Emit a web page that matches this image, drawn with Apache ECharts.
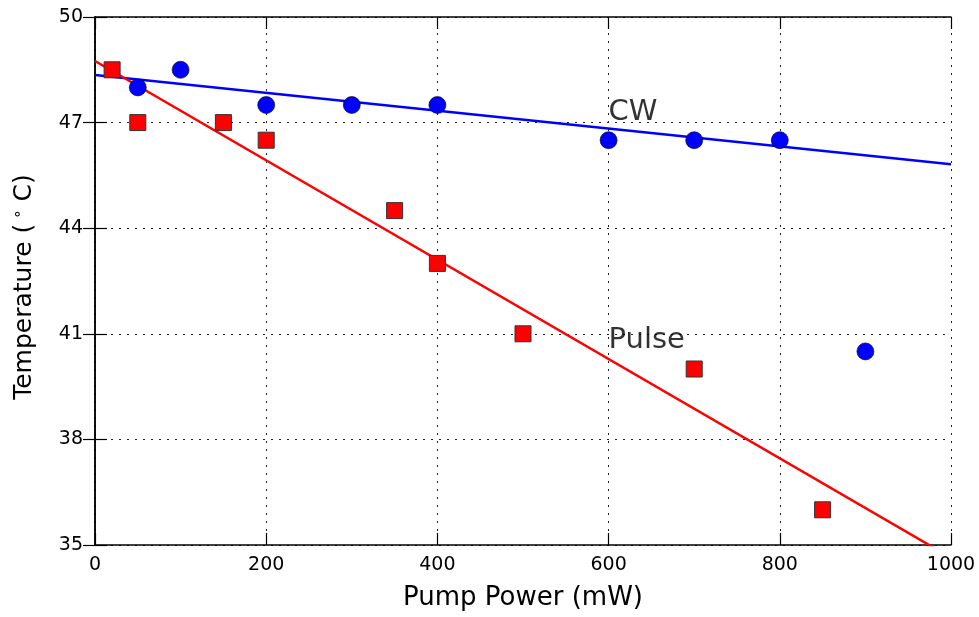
<!DOCTYPE html>
<html>
<head>
<meta charset="utf-8">
<script src="https://cdn.jsdelivr.net/npm/echarts@6/dist/echarts.min.js"></script>
<style>
  html, body { margin: 0; padding: 0; background: #fff; }
  #main { width: 979px; height: 617px; }
</style>
</head>
<body>
<div id="main"></div>
<script>
// measured values (mW, degC)
const cwPower = [50, 100, 200, 300, 400, 600, 700, 800, 900]
const cwTemp = [48, 48.5, 47.5, 47.5, 47.5, 46.5, 46.5, 46.5, 40.5]
const pulsePower = [20, 50, 150, 200, 350, 400, 500, 700, 850]
const pulseTemp = [48.5, 47, 47, 46.5, 44.5, 43, 41, 40, 36]
// fitted lines, endpoints
const cwFit = [[0, 48.35], [1000, 45.82]]
const pulseFit = [[0, 48.75], [1000, 34.64]]
// text labels in the plot
const notes = [
  { name: 'CW', value: [600, 47.28] },
  { name: 'Pulse', value: [600, 40.82] }
]

const font = 'DejaVu Sans'
let myChart = echarts.init(document.getElementById('main'))

const gridLine = {
  show: true,
  lineStyle: { color: '#222', width: 1, type: [2, 6] }
}
const frame = { show: true, lineStyle: { color: '#000', width: 1.5 } }
const tick = { show: true, inside: true, length: 12, lineStyle: { color: '#000', width: 1.2 } }

myChart.setOption({
  animation: false,
  grid: { left: 95, right: 28, top: 17, bottom: 72 },
  xAxis: [
    {
      type: 'value',
      min: 0,
      max: 1000,
      interval: 200,
      name: 'Pump Power (mW)',
      nameLocation: 'middle',
      nameGap: 40,
      nameTextStyle: { fontFamily: font, fontSize: 26, color: '#000' },
      axisLine: frame,
      axisTick: tick,
      axisLabel: {
        fontFamily: font, fontSize: 19, color: '#000', margin: 11,
        formatter: (v) => String(v)
      },
      splitLine: gridLine
    },
    {
      type: 'value',
      position: 'top',
      min: 0,
      max: 1000,
      interval: 200,
      axisLine: frame,
      axisTick: tick,
      axisLabel: { show: false },
      splitLine: { show: false }
    }
  ],
  yAxis: [
    {
      type: 'value',
      min: 35,
      max: 50,
      interval: 3,
      name: '{a|Temperature (}{b|∘}{a| C)}',
      nameLocation: 'middle',
      nameGap: 58,
      nameTextStyle: {
        fontFamily: font,
        fontSize: 25,
        color: '#000',
        padding: [0, 12, 0, 0],
        rich: {
          a: { fontFamily: font, fontSize: 25, color: '#000' },
          b: { fontFamily: font, fontSize: 15, color: '#000', padding: [0, 0, 11, 5] }
        }
      },
      axisLine: frame,
      axisTick: tick,
      axisLabel: { fontFamily: font, fontSize: 19, color: '#000', margin: 12 },
      splitLine: gridLine
    },
    {
      type: 'value',
      position: 'right',
      min: 35,
      max: 50,
      interval: 3,
      axisLine: frame,
      axisTick: tick,
      axisLabel: { show: false },
      splitLine: { show: false }
    }
  ],
  series: [
    {
      name: 'CW fit',
      type: 'line',
      data: cwFit,
      symbol: 'none',
      clip: true,
      lineStyle: { color: '#0000ff', width: 2.5 },
      z: 2
    },
    {
      name: 'Pulse fit',
      type: 'line',
      data: pulseFit,
      symbol: 'none',
      clip: true,
      lineStyle: { color: '#ff0000', width: 2.5 },
      z: 2
    },
    {
      name: 'CW',
      type: 'scatter',
      data: cwPower.map((p, i) => [p, cwTemp[i]]),
      symbol: 'circle',
      symbolSize: 17,
      itemStyle: { color: '#0000ff', borderColor: '#000', borderWidth: 0.6, opacity: 1 },
      z: 3
    },
    {
      name: 'Pulse',
      type: 'scatter',
      data: pulsePower.map((p, i) => [p, pulseTemp[i]]),
      symbol: 'rect',
      symbolSize: 16,
      itemStyle: { color: '#ff0000', borderColor: '#333', borderWidth: 1, opacity: 1 },
      z: 3
    },
    {
      name: 'notes',
      type: 'scatter',
      data: notes,
      symbolSize: 0,
      label: {
        show: true,
        position: [0, 0],
        align: 'left',
        verticalAlign: 'middle',
        formatter: '{b}',
        fontFamily: font,
        fontSize: 29,
        color: '#000'
      },
      z: 4
    }
  ]
})
</script>
</body>
</html>
